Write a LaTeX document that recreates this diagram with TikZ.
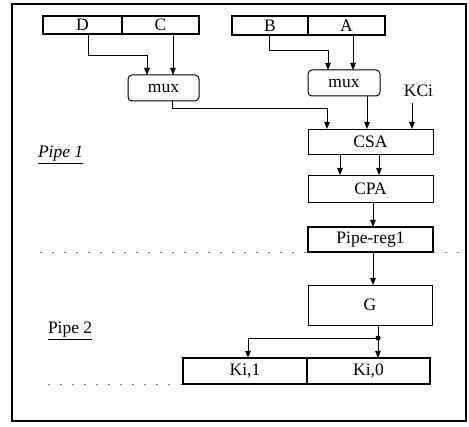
\documentclass[tikz,border=0pt]{standalone}
\usepackage{fontspec}
\setmainfont{Liberation Serif}
\usetikzlibrary{arrows.meta}
\begin{document}
\begin{tikzpicture}[x=1pt,y=-1pt,
  every node/.style={font=\fontsize{17.5}{20}\selectfont, inner sep=0pt, outer sep=0pt},
  blk/.style={draw, line width=0.9pt},
  halfbox/.style={draw, line width=2.2pt},
  muxbox/.style={draw, line width=1pt, rounded corners=4pt, minimum width=72pt, minimum height=26pt},
  arr/.style={-{Triangle[length=7pt,width=5.5pt]}, line width=0.9pt},
  wire/.style={line width=0.9pt},
  dashline/.style={line width=0.6pt, gray, dash pattern=on 2pt off 10pt}
]
\useasboundingbox (0,0) rectangle (469,427);
\draw[line width=1.6pt] (12,4) rectangle (466,421);

% input registers
\node[halfbox, minimum width=79pt, minimum height=18pt] (D) at (82.5,25) {D};
\node[halfbox, minimum width=77pt, minimum height=18pt] (C) at (160.5,25) {C};
\node[halfbox, minimum width=76pt, minimum height=19pt] (B) at (270,25.5) {B};
\node[halfbox, minimum width=77pt, minimum height=19pt] (A) at (346.5,25.5) {A};

% muxes
\node[muxbox, minimum width=71pt] (muxL) at (163.5,88) {mux};
\node[muxbox] (muxR) at (344,83) {mux};

% pipeline blocks
\node[blk, minimum width=125pt, minimum height=25pt] (CSA) at (370.5,141.5) {CSA};
\node[blk, minimum width=125pt, minimum height=27pt] (CPA) at (370.5,188.5) {CPA};
\node[halfbox, minimum width=125pt, minimum height=25pt] (reg) at (370.5,239.5) {Pipe-reg1};
\node[blk, minimum width=124pt, minimum height=40pt] (G) at (370,305) {G};
\node[halfbox, minimum width=124pt, minimum height=26pt] (K1) at (245,371) {Ki,1};
\node[halfbox, minimum width=123pt, minimum height=26pt] (K0) at (368.5,371) {Ki,0};

% labels
\node[anchor=base] (kci) at (418.5,97) {KCi};
\node[anchor=base west] (p1) at (38,158) {\underline{\itshape Pipe 1}};
\node[anchor=base west] (p2) at (48,334) {\underline{Pipe 2}};

% connectors into muxes
\draw[arr] ([xshift=5.5pt]D.south) -- ++(0,21) -| ([xshift=-16.5pt]muxL.north);
\draw[arr] ([xshift=12.5pt]C.south) -- ([xshift=12.5pt]C.south |- muxL.north);
\draw[arr] ([xshift=-1pt]B.south) -- ++(0,15) -| ([xshift=-16pt]muxR.north);
\draw[arr] ([xshift=6.5pt]A.south) -- ([xshift=6.5pt]A.south |- muxR.north);

% into CSA
\draw[arr] ([xshift=8.5pt]muxL.south) -- ++(0,7) -| ([xshift=-43.5pt]CSA.north);
\draw[arr] ([xshift=23pt]muxR.south) -- ([xshift=23pt]muxR.south |- CSA.north);
\draw[arr] ([xshift=-6.5pt,yshift=-6pt]kci.south) -- ([xshift=41.5pt]CSA.north);

% pipeline
\draw[arr] ([xshift=-30.5pt]CSA.south) -- ([xshift=-30.5pt]CPA.north);
\draw[arr] ([xshift=8.5pt]CSA.south) -- ([xshift=8.5pt]CPA.north);
\draw[arr] ([xshift=2.5pt]CPA.south) -- ([xshift=2.5pt]reg.north);
\draw[arr] ([xshift=2.5pt]reg.south) -- ([xshift=3pt]G.north);
\coordinate (dot) at ([xshift=8pt,yshift=-13pt]G.south);
\draw[wire] ([xshift=8pt]G.south) -- (dot);
\draw[arr] (dot) -- ([xshift=9.5pt]K0.north);
\draw[arr] (dot) -| ([xshift=3pt]K1.north);
\fill (dot) circle (2.6pt);

% stage separators
\draw[dashline] (40,252) -- (reg.south west);
\draw[dashline] (reg.south east) -- (462,252);
\draw[dashline] (48,384) -- (K1.south west);
\end{tikzpicture}
\end{document}
